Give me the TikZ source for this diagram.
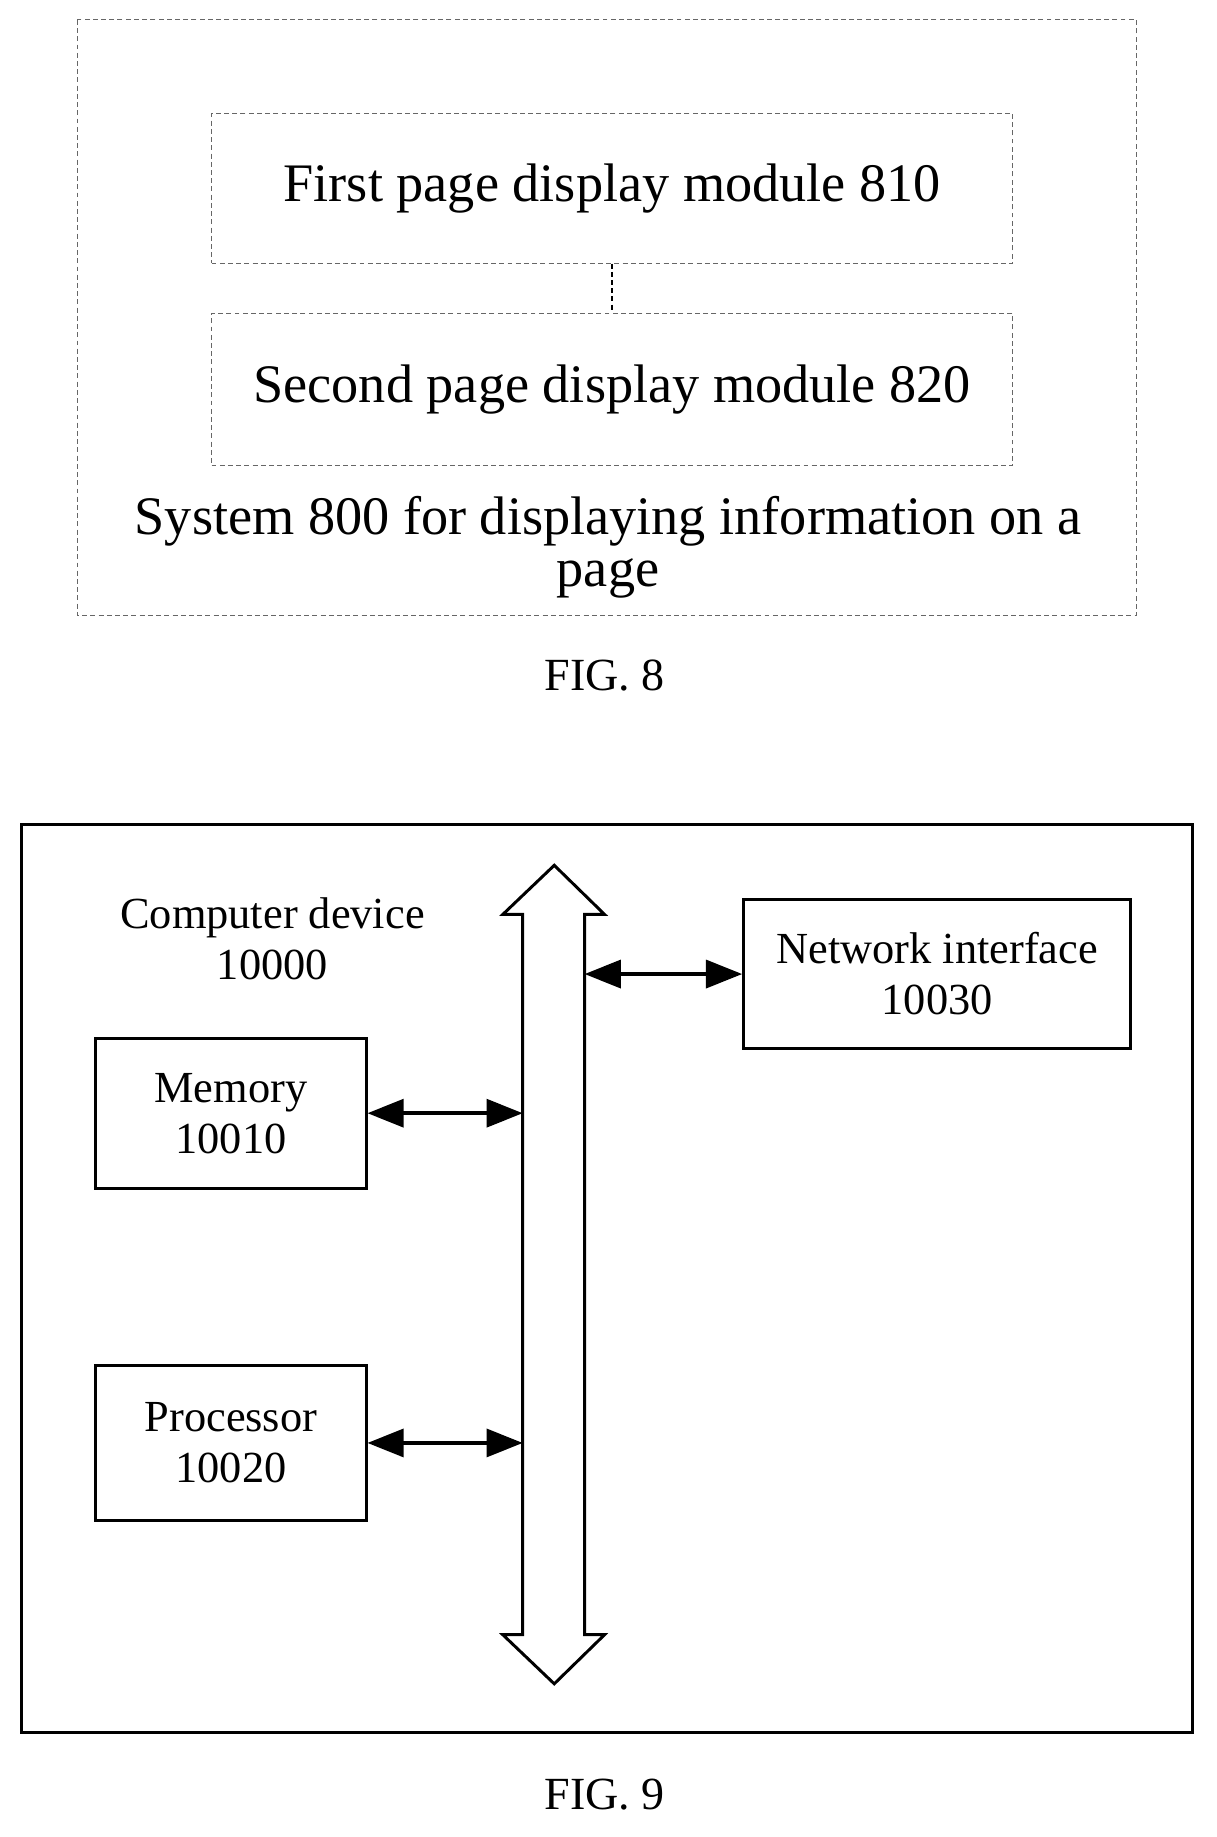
\documentclass[tikz,border=0pt]{standalone}
\usepackage{fontspec}
\setmainfont{Liberation Serif}
\usetikzlibrary{arrows.meta}
\begin{document}
\begin{tikzpicture}[x=0.025cm,y=-0.025cm,
	dbox/.style={draw, densely dashed, gray!80!black, line width=0.6pt},
	mbox/.style={draw, line width=1.8pt, minimum width=5.775cm, minimum height=3.2cm, align=center, font=\fontsize{27}{31}\selectfont},
	link/.style={<->, line width=2.2pt, >={Triangle[length=22pt,width=17pt]}},
	lbl/.style={font=\fontsize{33}{38}\selectfont, align=center}]
	\useasboundingbox (0,0) rectangle (1040,1571);
	% FIG. 8
	\draw [dbox] (66,17) rectangle (972,526);
	\node [dbox, minimum width=17.125cm, minimum height=3.2cm, text=black, font=\fontsize{33}{38}\selectfont] (first) at (523.5,161) {First page display module 810};
	\node [dbox, minimum width=17.125cm, minimum height=3.25cm, text=black, font=\fontsize{33}{38}\selectfont] (second) at (523.5,333) {Second page display module 820};
	\draw [densely dashed, line width=1.2pt] (first) -- (second);
	\node [lbl] (system) at (520,468) {System 800 for displaying information on a\\[-6pt] page};
	\node [font=\fontsize{28}{31}\selectfont] (fig8) at (517,578) {FIG. 8};
	% FIG. 9
	\draw [line width=1.8pt] (18,705) rectangle (1020,1482);
	\node [font=\fontsize{27}{31}\selectfont, align=center] (device) at (233,803) {Computer device\\10000};
	\node [mbox] (memory) at (197.5,952) {Memory\\10010};
	\node [mbox, minimum height=3.3cm] (processor) at (197.5,1234) {Processor\\10020};
	\node [mbox, minimum width=8.275cm] (network) at (801.5,833) {Network interface\\10030};
	\draw [line width=1.8pt] (474,740) -- (517,782) -- (500,782) -- (500,1398) -- (517,1398)
		-- (474,1440) -- (430,1398) -- (447,1398) -- (447,782) -- (430,782) -- cycle;
	\coordinate (busm) at (447,952);
	\coordinate (busp) at (447,1234);
	\coordinate (busn) at (500,833);
	\draw [link] (memory.east) -- (busm);
	\draw [link] (processor.east) -- (busp);
	\draw [link] (busn) -- (network.west);
	\node [font=\fontsize{28}{31}\selectfont] (fig9) at (517,1535) {FIG. 9};
\end{tikzpicture}
\end{document}
